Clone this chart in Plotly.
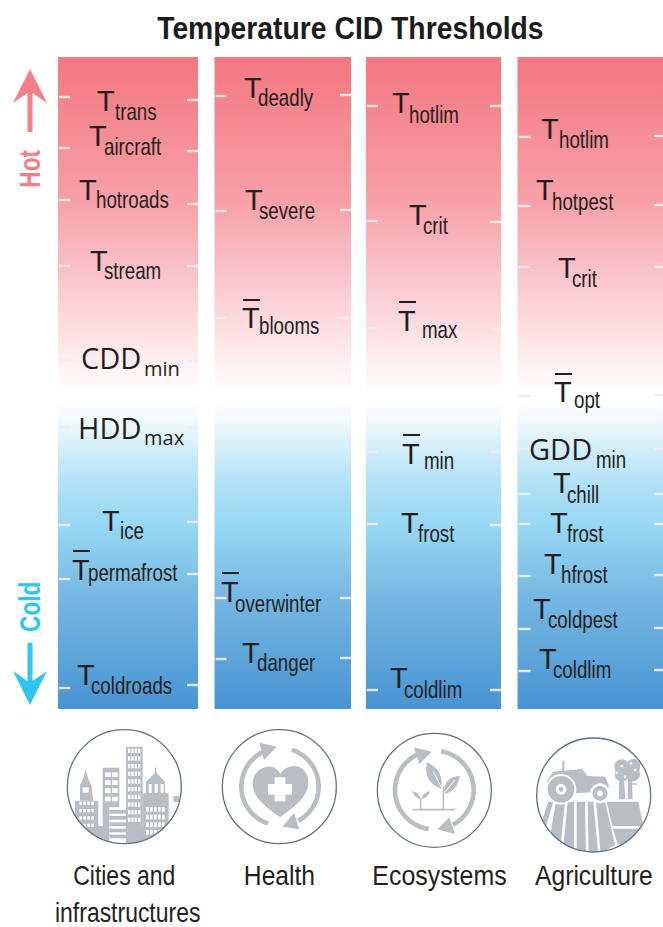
import math
import plotly.graph_objects as go

W, H = 663, 927
TITLE = "Temperature CID Thresholds"
SECTORS = [["Cities and", "infrastructures"], ["Health"], ["Ecosystems"], ["Agriculture"]]
SECTOR_X = [[124, 127], [279], [439.5], [594]]
SECTOR_Y = [[875, 912], [875], [875], [875]]

COL_LEFT = [58, 214.5, 366, 517.5]
COL_RIGHT = [198, 351, 501, 663]
COL_TOP = 57
COL_BOTTOM = 709
TICK_LEFT_LEN = [12, 12, 12, 13]
TICK_RIGHT_LEN = [11, 11, 11, 9]

# left and right tick rows, one list per sector
TICKS_LEFT = [
    [97, 148, 200, 266, 360, 427, 525, 579, 688],
    [96, 211, 318, 598, 659],
    [106, 221, 328, 452, 524, 690],
    [137, 206, 267, 396, 449, 494, 524, 576, 629, 671],
]
TICKS_RIGHT = [
    [100, 151, 204, 266, 361, 427, 522, 574, 685],
    [95, 210, 318, 598, 658],
    [106, 222, 329, 452, 525, 690],
    [136, 205, 267, 395, 449, 494, 524, 575, 628, 670],
]

LABEL_MAIN = ["T", "T", "T", "T", "CDD", "HDD", "T", "T", "T",
              "T", "T", "T", "T", "T",
              "T", "T", "T", "T", "T", "T",
              "T", "T", "T", "T", "GDD", "T", "T", "T", "T", "T"]
LABEL_SUB = ["trans", "aircraft", "hotroads", "stream", "min", "max", "ice", "permafrost", "coldroads",
             "deadly", "severe", "blooms", "overwinter", "danger",
             "hotlim", "crit", "max", "min", "frost", "coldlim",
             "hotlim", "hotpest", "crit", "opt", "min", "chill", "frost", "hfrost", "coldpest", "coldlim"]
MAIN_X = [98, 90, 80, 91, 83, 80, 103, 73, 78,
          245, 246, 243, 222, 243,
          393, 410, 399, 403, 402, 391,
          542, 537, 559, 555, 531, 554, 551, 545, 534, 540]
SUB_X = [116, 105, 97, 105, 145, 145, 121, 89, 92,
         259, 260, 260, 236, 258,
         410, 424, 423, 425, 419, 405,
         560, 553, 573, 575, 597, 568, 568, 562, 549, 554]
MAIN_BASE = [111, 146, 200, 271, 367, 437, 531, 580, 685,
             98, 210, 328, 602, 663,
             113, 225, 331, 464, 533, 688,
             139, 200, 278, 402, 458, 493, 533, 574, 619, 669]
SUB_BASE = [119, 154, 207, 278, 375, 444, 538, 580, 693,
            105, 218, 333, 611, 670,
            122, 233, 337, 468, 541, 697,
            147, 209, 286, 407, 467, 502, 541, 582, 627, 677]
OVERBAR_IDX = {7: 551, 11: 300, 12: 573, 16: 302, 17: 435, 23: 374}
OPEN_SUB_IDX = [4, 5]

GRADIENT_POS = [0.0, 0.22, 0.37, 0.515, 0.53, 0.57, 0.65, 0.72, 0.83, 1.0]
GRADIENT_COL = ["rgb(244,119,127)", "rgb(247,160,168)", "rgb(251,207,213)",
                "rgb(255,255,255)", "rgb(255,255,255)", "rgb(232,246,252)",
                "rgb(178,226,247)", "rgb(150,215,243)", "rgb(118,183,227)", "rgb(72,148,210)"]
GRADIENT = [[p, c] for p, c in zip(GRADIENT_POS, GRADIENT_COL)]

SANS = "Liberation Sans"
OPEN = "Open Sans"
INK = "#231f20"
HOT = "#f47f88"
COLD = "#2ec4f4"
ICON = "#b9bec4"
RING = "#5f7182"

fig = go.Figure()

for l, r in zip(COL_LEFT, COL_RIGHT):
    fig.add_trace(go.Scatter(
        x=[l, r, r, l, l], y=[COL_TOP, COL_TOP, COL_BOTTOM, COL_BOTTOM, COL_TOP],
        mode="lines", line=dict(width=0), fill="toself", hoverinfo="skip",
        fillgradient=dict(type="vertical", colorscale=GRADIENT, start=COL_TOP, stop=COL_BOTTOM),
        showlegend=False))

for i in range(4):
    xs, ys = [], []
    for row in TICKS_LEFT[i]:
        xs += [COL_LEFT[i] + 1, COL_LEFT[i] + TICK_LEFT_LEN[i], None]
        ys += [row, row, None]
    for row in TICKS_RIGHT[i]:
        xs += [COL_RIGHT[i] - TICK_RIGHT_LEN[i], COL_RIGHT[i], None]
        ys += [row, row, None]
    fig.add_trace(go.Scatter(x=xs, y=ys, mode="lines", hoverinfo="skip", showlegend=False,
                             line=dict(color="rgba(240,236,236,0.95)", width=2.4)))

bx, by = [], []
for idx, row in OVERBAR_IDX.items():
    bx += [MAIN_X[idx], MAIN_X[idx] + 17, None]
    by += [row, row, None]
fig.add_trace(go.Scatter(x=bx, y=by, mode="lines", hoverinfo="skip", showlegend=False,
                         line=dict(color=INK, width=2)))

anns = []
def text(x, y, s, family, size, color=INK, anchor="left", angle=0, bold=False):
    anns.append(dict(x=x, y=y, xref="x", yref="y", text=f"<b>{s}</b>" if bold else s, showarrow=False,
                     xanchor=anchor, yanchor="middle", textangle=angle, borderpad=0, borderwidth=0,
                     font=dict(family=family, size=size, color=color)))

for i, (m, s, mx, sx, mb, sb) in enumerate(zip(LABEL_MAIN, LABEL_SUB, MAIN_X, SUB_X, MAIN_BASE, SUB_BASE)):
    if m == "T":
        text(mx - 1, mb - 0.345 * 29, m, SANS, 29)
    else:
        text(mx - 2, mb - 0.345 * 29, m, OPEN, 29)
    if i in OPEN_SUB_IDX:
        text(sx - 1, sb - 0.345 * 20, s, OPEN, 20)
    else:
        text(sx - 1, sb + 1 - 0.345 * 24, s, SANS, 24)

text(350, 28, TITLE, SANS, 32, anchor="center", bold=True, color="#1c1c1c")
for lines, xs, ys in zip(SECTORS, SECTOR_X, SECTOR_Y):
    for t, x, y in zip(lines, xs, ys):
        text(x, y, t, SANS, 28, anchor="center")
text(30, 169, "Hot", SANS, 29, color=HOT, anchor="center", angle=-90, bold=True)
text(30, 607, "Cold", SANS, 29, color=COLD, anchor="center", angle=-90, bold=True)

shapes = []
def path(pts, close=True):
    return "M" + "L".join(f"{x:.2f},{y:.2f}" for x, y in pts) + ("Z" if close else "")
def add_fill(pts, color=ICON):
    shapes.append(dict(type="path", path=path(pts), xref="x", yref="y", fillcolor=color, line=dict(width=0), layer="above"))
def add_stroke(pts, width, color=ICON):
    shapes.append(dict(type="path", path=path(pts, False), xref="x", yref="y", line=dict(color=color, width=width), layer="above"))

add_fill([(30, 69), (47, 103), (32.5, 93), (32.5, 132), (27.5, 132), (27.5, 93), (13, 103)], HOT)
add_fill([(30, 705), (47, 671), (32.5, 681), (32.5, 643), (27.5, 643), (27.5, 681), (13, 671)], COLD)

class Icon:
    """Icon drawn in the zoomed frame of 3 units per pixel, clipped to its circle."""
    def __init__(self, ox, oy, cx, cy, r=171):
        self.ox, self.oy, self.cx, self.cy, self.r = ox, oy, cx, cy, r
    def pt(self, p):
        return (self.ox + p[0] / 3, self.oy + p[1] / 3)
    def map(self, pts):
        out = []
        n = len(pts)
        for i in range(n):
            a, b = pts[i], pts[(i + 1) % n]
            for k in range(12):
                t = k / 12
                x, y = a[0] + (b[0] - a[0]) * t, a[1] + (b[1] - a[1]) * t
                d = math.hypot(x - self.cx, y - self.cy)
                if d > self.r - 1:
                    f = (self.r - 1) / d
                    x, y = self.cx + (x - self.cx) * f, self.cy + (y - self.cy) * f
                out.append(self.pt((x, y)))
        return out
    def fill(self, pts, color=ICON):
        add_fill(self.map(pts), color)
    def rect(self, x0, y0, x1, y1, color=ICON):
        self.fill([(x0, y0), (x1, y0), (x1, y1), (x0, y1)], color)
    def disc(self, x, y, r, color=ICON):
        add_fill([self.pt((x + r * math.cos(a * math.pi / 18), y + r * math.sin(a * math.pi / 18))) for a in range(36)], color)
    def arc(self, x, y, r, a0, a1, width):
        n = 50
        pts = []
        for i in range(n + 1):
            a = math.radians(a0 + (a1 - a0) * i / n)
            pts.append(self.pt((x + r * math.cos(a), y + r * math.sin(a))))
        add_stroke(pts, width)
    def line(self, pts, width, color=ICON):
        add_stroke([self.pt(p) for p in pts], width, color)
    def ring(self):
        r = self.r / 3
        cx, cy = self.pt((self.cx, self.cy))
        shapes.append(dict(type="circle", x0=cx - r, x1=cx + r, y0=cy - r, y1=cy + r, xref="x", yref="y",
                           line=dict(color=RING, width=1.3), layer="above"))
    def bez(self, pts, color=ICON):
        p = [self.pt(q) for q in pts]
        d = f"M{p[0][0]:.2f},{p[0][1]:.2f}"
        for i in range(1, len(p), 3):
            d += "C" + " ".join(f"{x:.2f},{y:.2f}" for x, y in p[i:i + 3])
        shapes.append(dict(type="path", path=d + "Z", xref="x", yref="y", fillcolor=color, line=dict(width=0), layer="above"))

WHITE = "#ffffff"
c = Icon(40, 730, 253, 170)
c.rect(80, 288, 430, 350)
c.rect(105, 212, 175, 300)
c.fill([(120, 212), (120, 165), (128, 150), (137, 118), (146, 150), (154, 165), (160, 212)])
c.rect(188, 113, 238, 345)
c.rect(258, 50, 308, 345)
c.fill([(347, 105), (350, 130), (375, 155), (375, 192), (318, 192), (318, 155), (344, 130)])
c.rect(308, 190, 386, 340)
c.rect(400, 198, 418, 216)
for row in (215, 237, 259, 281):
    for col in (118, 130, 142, 154):
        c.rect(col, row, col + 8, row + 10, WHITE)
c.rect(128, 172, 146, 188, WHITE)
for row in (127, 151, 175, 200):
    for col in (195, 216):
        c.rect(col, row, col + 17, row + 14, WHITE)
for row in range(56, 270, 23):
    for col in (264, 274, 284, 294):
        c.rect(col, row, col + 7, row + 13, WHITE)
for col in (326, 344, 362):
    c.rect(col, 162, col + 9, 189, WHITE)
for row in (231, 254, 277, 300):
    for col in (318, 330, 342, 354, 366):
        c.rect(col, row, col + 8, row + 14, WHITE)
c.rect(208, 232, 258, 345, WHITE)
for row in (240, 258, 277, 296, 314):
    c.rect(208, row, 258, row + 11)
c.ring()

h = Icon(40, 730, 718, 170)
h.arc(720, 170, 116, 248, 108, 4.6)
h.fill([(658, 38), (710, 50), (672, 90)])
h.arc(720, 170, 116, -72, 62, 4.6)
h.fill([(728, 290), (778, 298), (762, 248)])
h.bez([(720, 262), (680, 232), (638, 205), (638, 160),
       (638, 128), (668, 108), (692, 110),
       (708, 112), (716, 122), (721, 132),
       (726, 120), (745, 108), (762, 108),
       (790, 108), (806, 132), (805, 160),
       (802, 205), (760, 232), (720, 262)])
h.rect(704, 142, 736, 214, WHITE)
h.rect(684, 162, 756, 194, WHITE)
h.ring()

e = Icon(350, 730, 253, 181)
e.arc(253, 180, 118, 245, 98, 4.6)
e.fill([(192, 52), (245, 65), (208, 102)])
e.arc(253, 180, 118, -80, 62, 4.6)
e.fill([(262, 298), (315, 312), (298, 262)])
e.bez([(230, 97), (222, 140), (240, 165), (274, 176), (280, 140), (265, 110), (230, 97)])
e.bez([(330, 138), (295, 140), (278, 160), (283, 192), (312, 185), (325, 165), (330, 138)])
e.bez([(187, 183), (192, 198), (200, 205), (212, 207), (210, 195), (200, 186), (187, 183)])
e.bez([(240, 183), (236, 198), (226, 205), (214, 207), (216, 195), (226, 186), (240, 183)])
e.line([(280, 170), (280, 238)], 1.5)
e.line([(212, 205), (212, 238)], 1.5)
e.line([(188, 239), (315, 239)], 1.6)
e.line([(250, 125), (278, 180)], 1, WHITE)
e.line([(315, 150), (282, 190)], 1, WHITE)
e.ring()

a = Icon(350, 730, 731, 195)
for strip in [
    [(595, 215), (610, 215), (585, 300), (570, 290)],
    [(618, 215), (645, 215), (632, 345), (600, 320)],
    [(653, 215), (672, 215), (672, 370), (640, 350)],
    [(680, 215), (705, 215), (708, 375), (680, 370)],
    [(713, 215), (730, 215), (745, 375), (716, 375)],
    [(738, 215), (765, 215), (795, 345), (752, 370)],
    [(770, 215), (865, 215), (880, 288), (787, 288)],
    [(789, 296), (885, 296), (815, 345), (802, 340)],
]:
    a.fill(strip)
a.line([(640, 92), (640, 128)], 2)
a.fill([(610, 125), (690, 118), (695, 115), (712, 138), (765, 140), (776, 165), (776, 182), (680, 190), (590, 170), (592, 150)])
a.disc(633, 178, 46, WHITE)
a.disc(633, 178, 40)
a.disc(633, 178, 16, WHITE)
a.disc(633, 178, 7)
a.disc(750, 190, 30, WHITE)
a.disc(750, 190, 22)
a.disc(750, 190, 9, WHITE)
for tx, ty, tr in [(815, 110, 22), (850, 108, 21), (815, 133, 21), (848, 132, 22)]:
    a.disc(tx, ty, tr)
for tx, ty in [(815, 108), (843, 100), (855, 120), (825, 140), (800, 128)]:
    a.disc(tx, ty, 4, WHITE)
a.fill([(808, 150), (822, 150), (826, 208), (806, 208)])
a.fill([(834, 150), (846, 150), (848, 208), (833, 208)])
a.line([(846, 162), (862, 162)], 1.3)
a.ring()

fig.update_layout(
    width=W, height=H, margin=dict(l=0, r=0, t=0, b=0), paper_bgcolor="white", plot_bgcolor="white",
    showlegend=False, annotations=anns, shapes=shapes,
    xaxis=dict(range=[0, W], visible=False, fixedrange=True),
    yaxis=dict(range=[H, 0], visible=False, fixedrange=True),
)

# The reference sets labels in a condensed face, and no narrow font is installed:
# squeeze the Liberation Sans labels horizontally once they are drawn.
POST = """
document.documentElement.style.margin='0';
document.body.style.margin='0';
document.body.style.overflow='hidden';
(function(){
  var wide={'Temperature CID Thresholds':0.885,'Health':0.88,'Ecosystems':0.89,'Agriculture':0.88,'Cities and':0.82,'infrastructures':0.82};
  function squeeze(){
    document.querySelectorAll('text.annotation-text').forEach(function(el){
      var s=el.textContent;
      if(s==='T'||el.style.fontFamily.indexOf('Liberation')<0) return;
      var k=wide[s]||0.78;
      var left=!(s in wide)&&s!=='Hot'&&s!=='Cold';
      el.style.transformBox='fill-box';
      el.style.transformOrigin=left?'left center':'center center';
      el.style.transform='scaleX('+k+')';
    });
  }
  squeeze();
  var gd=document.getElementById('{plot_id}');
  if(gd&&gd.on) gd.on('plotly_afterplot',squeeze);
  setTimeout(squeeze,0);
})();
"""
fig.write_html("out.html", config=dict(displayModeBar=False), post_script=POST)
